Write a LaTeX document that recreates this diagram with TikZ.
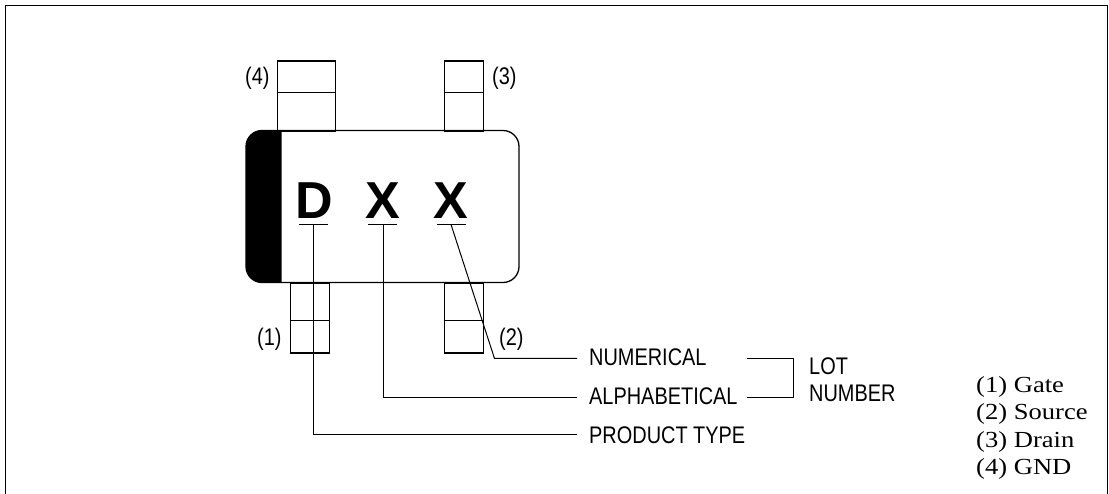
\documentclass[tikz,border=0pt]{standalone}
\usepackage{fontspec}
\setmainfont{Liberation Serif}
\newfontfamily\narrow[FakeStretch=0.83]{Liberation Sans}
\newfontfamily\legendfont[FakeStretch=1.155]{Liberation Serif}
\newfontfamily\bigfont{Liberation Sans}
\tikzset{
  thin ln/.style={draw=black,line width=1pt},
  pin/.style={draw=black,line width=1.3pt,fill=white,inner sep=0pt},
  lbl/.style={font=\narrow\fontsize{24}{26}\selectfont,inner sep=0pt,anchor=base west,text=black},
  big/.style={font=\bigfont\bfseries\fontsize{52}{54}\selectfont,inner sep=0pt,anchor=base,text=black},
  lg/.style={font=\legendfont\fontsize{23}{25}\selectfont,inner sep=0pt,anchor=base west,text=black},
}
\begin{document}
\begin{tikzpicture}[x=1pt,y=-1pt]
\useasboundingbox (0,0) rectangle (1109,494);
\draw[black,line width=1.3pt] (5.5,494) -- (5.5,5.5) -- (1107.5,5.5) -- (1107.5,494);
% pins
\node[pin,minimum width=58pt,minimum height=70pt,anchor=north west] (p4) at (276.5,60.5) {};
\draw[pin] (p4.west |- 0,92.5) -- (p4.east |- 0,92.5);
\node[pin,minimum width=39pt,minimum height=70pt,anchor=north west] (p3) at (443.5,60.5) {};
\draw[pin] (p3.west |- 0,92.5) -- (p3.east |- 0,92.5);
\node[pin,minimum width=39pt,minimum height=70pt,anchor=north west] (p1) at (289.5,282.5) {};
\draw[pin] (p1.west |- 0,320.5) -- (p1.east |- 0,320.5);
\node[pin,minimum width=39pt,minimum height=70pt,anchor=north west] (p2) at (443.5,282.5) {};
\draw[pin] (p2.west |- 0,320.5) -- (p2.east |- 0,320.5);
% body
\draw[line width=1.3pt,rounded corners=16pt] (246,130.5) rectangle (519,282.5);
\begin{scope}
\clip (245,129) rectangle (281.7,283);
\fill[black,rounded corners=16pt] (246,130.5) rectangle (320,282.5);
\end{scope}
% letters
\node[big] (d) at (314,219) {D};
\node[big] (x1) at (382.5,219) {X};
\node[big] (x2) at (450.5,219) {X};
\draw[thin ln] (299,224.5) -- (328,224.5);
\draw[thin ln] (368,224.5) -- (397,224.5);
\draw[thin ln] (437,224.5) -- (466,224.5);
% labels
\node[lbl] (n4) at (245,84.5) {(4)};
\node[lbl] (n3) at (492,84.5) {(3)};
\node[lbl] (n1) at (257,345.5) {(1)};
\node[lbl] (n2) at (499,345.5) {(2)};
\node[lbl] (num) at (589,366) {NUMERICAL};
\node[lbl] (alp) at (589,404.5) {ALPHABETICAL};
\node[lbl] (prod) at (589,443.5) {PRODUCT TYPE};
\node[lbl] (lot) at (809,374) {LOT};
\node[lbl] (numb) at (809,402) {NUMBER};
\node[lg] (g1) at (976,392) {(1) Gate};
\node[lg] (g2) at (976,419) {(2) Source};
\node[lg] (g3) at (976,447) {(3) Drain};
\node[lg] (g4) at (976,474) {(4) GND};
% connectors
\coordinate (dt) at (313.5,224.5);
\coordinate (x1t) at (383.5,224.5);
\coordinate (x2t) at (451,224.5);
\coordinate (xk) at (494.5,358.5);
\coordinate (dk) at (313.5,434.5);
\coordinate (x1k) at (383.5,397.5);
\coordinate (ne) at (577,358.5);
\coordinate (ae) at (577,397.5);
\coordinate (pe) at (577,434.5);
\coordinate (bt) at (747,358.5);
\coordinate (bb) at (747,397.5);
\coordinate (bk) at (793.5,358.5);
\coordinate (bl) at (793.5,397.5);
\draw[thin ln] (dt) -- (dk) -- (pe);
\draw[thin ln] (x1t) -- (x1k) -- (ae);
\draw[thin ln] (x2t) -- (xk) -- (ne);
\draw[thin ln] (bt) -- (bk) -- (bl) -- (bb);
\end{tikzpicture}
\end{document}
